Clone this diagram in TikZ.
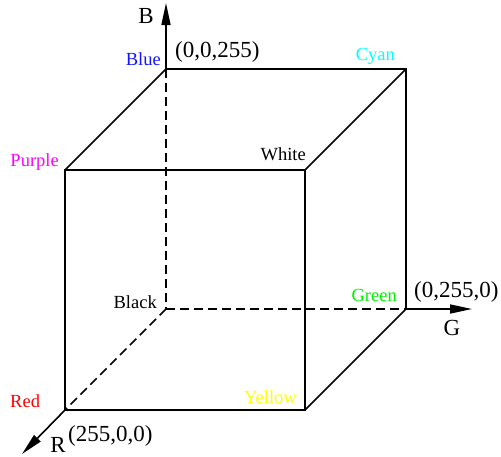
\documentclass[tikz,border=0pt]{standalone}
\usepackage{fontspec}
\setmainfont{Liberation Serif}
\usetikzlibrary{arrows.meta}
\definecolor{cblue}{RGB}{20,20,255}
\definecolor{ccyan}{RGB}{0,255,255}
\definecolor{cmag}{RGB}{255,0,255}
\definecolor{cgreen}{RGB}{0,240,0}
\definecolor{cyel}{RGB}{255,255,0}
\definecolor{cred}{RGB}{255,0,0}
\tikzset{
  edge/.style={line width=1.6pt, line cap=butt},
  hidden/.style={edge, dash pattern=on 9pt off 5pt},
  axis/.style={line width=1.6pt, -{Triangle[length=22pt,width=9pt]}},
  vlabel/.style={inner sep=0pt, font=\fontsize{18.5}{20}\selectfont},
  big/.style={inner sep=0pt, font=\fontsize{23}{26}\selectfont},
}
\begin{document}
\begin{tikzpicture}[x=1pt,y=-1pt]
\useasboundingbox (0,0) rectangle (501,456);
% vertices
\coordinate (Bl) at (166,69);
\coordinate (Cy) at (406,69);
\coordinate (Bk) at (166,309);
\coordinate (Gr) at (406,309);
\coordinate (Pu) at (65,170);
\coordinate (Wh) at (305,170);
\coordinate (Re) at (65,410);
\coordinate (Ye) at (305,410);
\coordinate (Btip) at (166,3);
\coordinate (Gtip) at (472,309);
\coordinate (Rtip) at (22,454);
% hidden edges
\draw[hidden] (Bl) -- (Bk);
\draw[hidden] (Bk) -- (Gr);
\draw[hidden] (Bk) -- (Re);
% visible edges
\draw[edge] (Pu) -- (Wh) -- (Ye) -- (Re) -- cycle;
\draw[edge] (Pu) -- (Bl) -- (Cy) -- (Gr) -- (Ye);
\draw[edge] (Wh) -- (Cy);
% axes
\draw[axis] (Bl) -- (Btip);
\draw[axis] (Gr) -- (Gtip);
\draw[axis] (Re) -- (Rtip);
% labels
\node[big, anchor=base] (lB) at (146,23) {B};
\node[big, anchor=base] (lG) at (452,335) {G};
\node[big, anchor=base] (lR) at (58,452) {R};
\node[big, anchor=base west] (c1) at (175,57) {(0,0,255)};
\node[big, anchor=base west] (c2) at (414,297) {(0,255,0)};
\node[big, anchor=base west] (c3) at (68,441) {(255,0,0)};
\node[vlabel, anchor=base east, text=cblue] (nBl) at (161,65) {Blue};
\node[vlabel, anchor=base east, text=ccyan] (nCy) at (395,60) {Cyan};
\node[vlabel, anchor=base east, text=cmag] (nPu) at (59,166) {Purple};
\node[vlabel, anchor=base east] (nWh) at (306,160) {White};
\node[vlabel, anchor=base east] (nBk) at (157,308) {Black};
\node[vlabel, anchor=base east, text=cgreen] (nGr) at (397,301) {Green};
\node[vlabel, anchor=base west, text=cred] (nRe) at (10,407) {Red};
\node[vlabel, anchor=base east, text=cyel] (nYe) at (297,403) {Yellow};
\end{tikzpicture}
\end{document}
